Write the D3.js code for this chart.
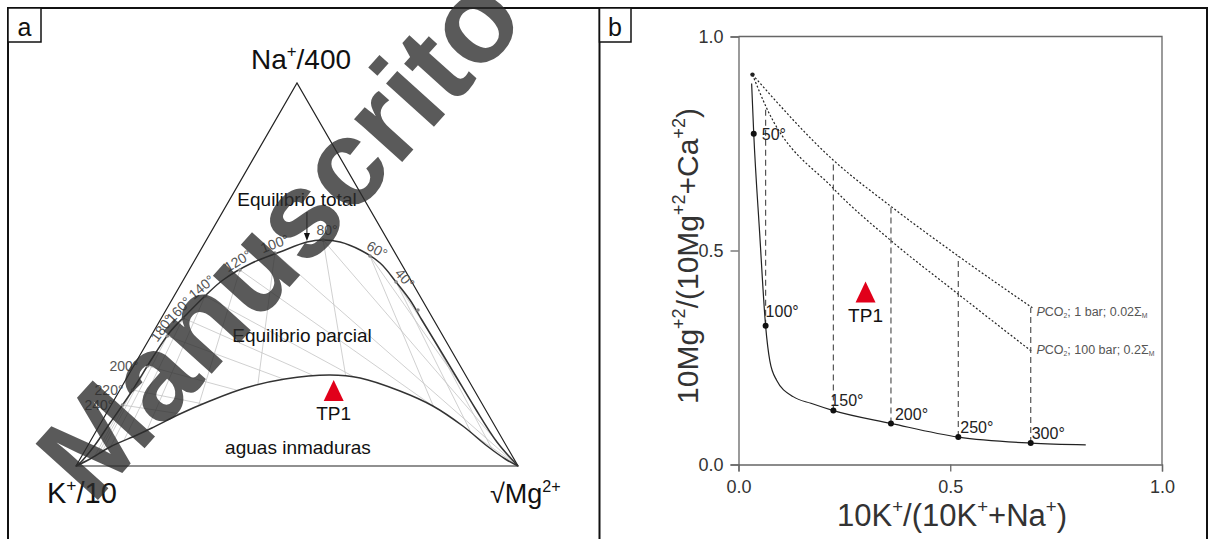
<!DOCTYPE html>
<html>
<head>
<meta charset="utf-8">
<script src="https://cdn.jsdelivr.net/npm/d3@7"></script>
<style>
  body { margin: 0; background: #fff; }
  svg { display: block; font-family: "Liberation Sans", Arial, sans-serif; }
</style>
</head>
<body>
<svg id="chart" width="1212" height="539"></svg>
<script>
// ---- panel a: ternary Na+/400 - K+/10 - sqrt(Mg), values in % (K = rest)
const fullNa = [0, 0.78, 5.48, 11.23, 18.80, 28.46, 34.99, 39.43, 44.39, 48.56, 53.0, 55.87, 58.49, 59.01, 58.49, 56.4, 53.0, 48.04, 43.34, 38.12, 31.59, 23.76, 15.14, 6.27, 0];
const fullMg = [0, 0.51, 1.56, 2.08, 2.82, 3.19, 3.77, 5.17, 6.99, 8.98, 13.3, 18.2, 23.0, 26.4, 30.5, 36.1, 42.3, 48.4, 53.9, 59.2, 65.9, 73.9, 82.7, 92.1, 100];

const partNa = [0, 1.83, 4.96, 8.09, 9.92, 13.58, 16.97, 20.37, 22.72, 23.76, 22.98, 19.58, 15.67, 10.44, 5.22, 1.83, 0];
const partMg = [0, 2.25, 5.21, 9.75, 12.2, 16.7, 21.8, 28.1, 35.9, 45.6, 52.8, 63.5, 72.9, 82.3, 90.4, 96.2, 100];

const eqTemps = [240, 220, 200, 180, 160, 140, 120, 100, 80, 60, 40, 20];
const eqNa = [15.93, 19.84, 26.1, 33.94, 38.64, 44.39, 51.17, 55.61, 59.01, 54.83, 48.04, 40.73];
const eqMg = [2.54, 2.87, 3.1, 3.69, 4.93, 6.99, 11.5, 17.2, 26.4, 39.1, 48.4, 57.0];
const eqLabelMode = ['left', 'left', 'left', 'along', 'along', 'along', 'along', 'along', 'above', 'along', 'along', ''];

const tp1Na = 18.8;
const tp1Mg = 48.9;

// ---- panel b: 10K/(10K+Na) vs 10Mg/(10Mg+Ca)
const curveX = [0.031, 0.036, 0.050, 0.064, 0.074, 0.090, 0.130, 0.171, 0.224, 0.360, 0.519, 0.690, 0.820];
const curveY = [0.890, 0.773, 0.540, 0.324, 0.242, 0.197, 0.158, 0.143, 0.126, 0.096, 0.064, 0.050, 0.046];

const tempB = [50, 100, 150, 200, 250, 300];
const tempBX = [0.036, 0.064, 0.224, 0.360, 0.519, 0.690];
const tempBY = [0.773, 0.324, 0.126, 0.096, 0.064, 0.050];
const dashTopY = [null, 0.838, 0.711, 0.603, 0.487, 0.366];

const co2OneBarX = [0.033, 0.224, 0.360, 0.519, 0.694];
const co2OneBarY = [0.911, 0.711, 0.603, 0.487, 0.366];
const co2HundredBarX = [0.033, 0.064, 0.224, 0.360, 0.519, 0.694];
const co2HundredBarY = [0.911, 0.838, 0.645, 0.523, 0.398, 0.263];

const tp1B = [0.300, 0.395];

const xTicks = [0, 0.5, 1];
const yTicks = [0, 0.5, 1];

const svg = d3.select('#chart');

// small helper for super/subscripts
function richText(sel, parts, size) {
  let shift = 0;
  parts.forEach(([str, kind]) => {
    const t = sel.append('tspan').text(str);
    let target = 0, fs = size;
    if (kind === 'sup') { target = -0.42 * size; fs = size * 0.6; }
    if (kind === 'sub') { target = 0.2 * size; fs = size * 0.55; }
    if (kind === 'ital') t.attr('font-style', 'italic');
    t.attr('font-size', fs).attr('dy', target - shift);
    shift = target;
  });
}

function triPath(cx, cy) {
  return `M${cx},${cy - 14}L${cx + 10},${cy + 7}L${cx - 10},${cy + 7}Z`;
}

// outer frame + divider
svg.append('rect')
  .attr('x', 8).attr('y', 8).attr('width', 1199).attr('height', 560)
  .attr('fill', 'none').attr('stroke', '#111').attr('stroke-width', 2);
svg.append('line')
  .attr('x1', 599.5).attr('x2', 599.5).attr('y1', 8).attr('y2', 539)
  .attr('stroke', '#111').attr('stroke-width', 2);

[['a', 8, 33, 24.5], ['b', 599.5, 31.5, 615]].forEach(([t, x0, w, cx]) => {
  svg.append('rect').attr('x', x0).attr('y', 8).attr('width', w).attr('height', 34)
    .attr('fill', '#fff').attr('stroke', '#111').attr('stroke-width', 1.5);
  svg.append('text').attr('x', cx).attr('y', 36).attr('text-anchor', 'middle')
    .attr('font-size', 25).attr('fill', '#111').text(t);
});

// ================= panel a =================
const gA = svg.append('g');
const side = d3.scaleLinear().domain([0, 100]).range([0, 442]);
const naY = d3.scaleLinear().domain([0, 100]).range([466, 83]);
const kX = 76;
const tern = (na, mg) => [kX + side(mg) + side(na) / 2, naY(na)];

const smooth = d3.line().curve(d3.curveCatmullRom.alpha(0.5));
const fullPts = fullNa.map((v, i) => tern(v, fullMg[i]));
const partPts = partNa.map((v, i) => tern(v, partMg[i]));
const eqPts = eqNa.map((v, i) => tern(v, eqMg[i]));

const clipD = smooth(fullPts) + smooth(partPts.slice().reverse()).replace(/^M/, 'L') + 'Z';
svg.append('defs').append('clipPath').attr('id', 'between')
  .append('path').attr('d', clipD);

// isotherm mesh between the two curves
const mesh = gA.append('g').attr('clip-path', 'url(#between)')
  .attr('stroke', '#c4c4c4').attr('stroke-width', 0.8).attr('fill', 'none');
eqNa.forEach((na, i) => {
  const mg = eqMg[i], k = 100 - na - mg;
  const edgeNa = na / (na + k) * 100;
  const edgeMg = mg / (mg + k) * 100;
  mesh.append('path').attr('d', d3.line()([tern(0, 100), tern(edgeNa, 0)]));
  mesh.append('path').attr('d', d3.line()([tern(100, 0), tern(0, edgeMg)]));
});

// triangle
gA.append('path')
  .attr('d', d3.line()([tern(0, 0), tern(100, 0), tern(0, 100)]) + 'Z')
  .attr('fill', 'none').attr('stroke', '#222').attr('stroke-width', 1.2);

gA.append('path').attr('d', smooth(fullPts))
  .attr('fill', 'none').attr('stroke', '#333').attr('stroke-width', 1.5);
gA.append('path').attr('d', smooth(partPts))
  .attr('fill', 'none').attr('stroke', '#333').attr('stroke-width', 1.5);

// temperature ticks on the full equilibrium line
gA.selectAll('.eqdot').data(eqPts).join('circle')
  .attr('cx', d => d[0]).attr('cy', d => d[1]).attr('r', 1.8).attr('fill', '#888');

eqPts.forEach((p, i) => {
  const mode = eqLabelMode[i];
  if (!mode) return;
  const label = eqTemps[i] + '°';
  const t = gA.append('text').attr('font-size', 14).attr('fill', '#555').text(label);
  if (mode === 'left') {
    t.attr('x', p[0] - 9).attr('y', p[1] + 5).attr('text-anchor', 'end');
  } else if (mode === 'above') {
    t.attr('x', p[0] + 4).attr('y', p[1] - 5).attr('text-anchor', 'middle');
  } else {
    const a = eqPts[Math.max(i - 1, 0)], b = eqPts[Math.min(i + 1, eqPts.length - 1)];
    const ang = Math.atan2(b[1] - a[1], b[0] - a[0]);
    const ux = Math.sin(ang), uy = -Math.cos(ang);
    const cx = p[0] + ux * 9 + Math.cos(ang) * 3;
    const cy = p[1] + uy * 9 + Math.sin(ang) * 3;
    t.attr('text-anchor', 'middle').attr('dominant-baseline', 'central')
      .attr('transform', `translate(${cx},${cy}) rotate(${ang * 180 / Math.PI})`);
  }
});

// arrow "Equilibrio total"
const arrowTo = fullPts[12];
gA.append('line').attr('x1', arrowTo[0]).attr('x2', arrowTo[0])
  .attr('y1', 212).attr('y2', arrowTo[1] - 6)
  .attr('stroke', '#111').attr('stroke-width', 1);
gA.append('path')
  .attr('d', `M${arrowTo[0] - 3},${arrowTo[1] - 9}L${arrowTo[0] + 3},${arrowTo[1] - 9}L${arrowTo[0]},${arrowTo[1] - 1}Z`)
  .attr('fill', '#111');

gA.append('text').attr('x', 297).attr('y', 206).attr('text-anchor', 'middle')
  .attr('font-size', 19).attr('fill', '#111').text('Equilibrio total');
gA.append('text').attr('x', 302).attr('y', 342).attr('text-anchor', 'middle')
  .attr('font-size', 19).attr('fill', '#111').text('Equilibrio parcial');
gA.append('text').attr('x', 298).attr('y', 454).attr('text-anchor', 'middle')
  .attr('font-size', 19).attr('fill', '#111').text('aguas inmaduras');

richText(gA.append('text').attr('x', 301).attr('y', 69).attr('text-anchor', 'middle')
  .attr('fill', '#111'), [['Na', ''], ['+', 'sup'], ['/400', '']], 28);
richText(gA.append('text').attr('x', 47).attr('y', 503).attr('fill', '#111'),
  [['K', ''], ['+', 'sup'], ['/10', '']], 29);
richText(gA.append('text').attr('x', 490).attr('y', 503).attr('fill', '#111'),
  [['√Mg', ''], ['2+', 'sup']], 27);

// TP1 in ternary
const tpA = tern(tp1Na, tp1Mg);
gA.append('path').attr('d', triPath(tpA[0], tpA[1])).attr('fill', '#e1001a');
gA.append('text').attr('x', tpA[0]).attr('y', tpA[1] + 26).attr('text-anchor', 'middle')
  .attr('font-size', 19).attr('fill', '#111').text('TP1');

// ================= panel b =================
const gB = svg.append('g');
const x = d3.scaleLinear().domain([0, 1]).range([738.5, 1162]);
const y = d3.scaleLinear().domain([0, 1]).range([464.5, 36.5]);

gB.append('path')
  .attr('d', `M${x(0)},${y(1)}H${x(1)}V${y(0)}`)
  .attr('fill', 'none').attr('stroke', '#666').attr('stroke-width', 1.3);

const ax = gB.append('g').attr('transform', `translate(0,${y(0)})`)
  .call(d3.axisBottom(x).tickValues(xTicks).tickFormat(d3.format('.1f')).tickSize(7).tickPadding(9));
const ay = gB.append('g').attr('transform', `translate(${x(0)},0)`)
  .call(d3.axisLeft(y).tickValues(yTicks).tickFormat(d3.format('.1f')).tickSize(8).tickPadding(7));
[ax, ay].forEach(g => {
  g.select('.domain').attr('stroke', '#666').attr('stroke-width', 1.3);
  g.selectAll('.tick line').attr('stroke', '#666').attr('stroke-width', 1.3);
  g.selectAll('.tick text').attr('font-size', 18).attr('fill', '#333')
    .attr('font-family', '"Liberation Sans", Arial, sans-serif');
});

const lineB = d3.line().x(d => x(d[0])).y(d => y(d[1])).curve(d3.curveMonotoneX);

[[co2OneBarX, co2OneBarY], [co2HundredBarX, co2HundredBarY]].forEach(([xs, ys]) => {
  gB.append('path').attr('d', lineB(xs.map((v, i) => [v, ys[i]])))
    .attr('fill', 'none').attr('stroke', '#222').attr('stroke-width', 1.2)
    .attr('stroke-dasharray', '2,2');
});

tempBX.forEach((v, i) => {
  if (dashTopY[i] == null) return;
  gB.append('line').attr('x1', x(v)).attr('x2', x(v))
    .attr('y1', y(tempBY[i])).attr('y2', y(dashTopY[i]))
    .attr('stroke', '#555').attr('stroke-width', 1.2).attr('stroke-dasharray', '6,4');
});

gB.append('path').attr('d', lineB(curveX.map((v, i) => [v, curveY[i]])))
  .attr('fill', 'none').attr('stroke', '#222').attr('stroke-width', 1.2);

gB.append('circle').attr('cx', x(co2OneBarX[0])).attr('cy', y(co2OneBarY[0]))
  .attr('r', 2.2).attr('fill', '#222');

gB.selectAll('.tdot').data(tempBX).join('circle')
  .attr('cx', d => x(d)).attr('cy', (d, i) => y(tempBY[i])).attr('r', 3).attr('fill', '#111');

const bLabelOff = { 50: [8, 6], 100: [0, -9], 150: [-3, -5], 200: [4, -3], 250: [2, -4], 300: [1, -4] };
tempB.forEach((t, i) => {
  const [dx, dy] = bLabelOff[t];
  gB.append('text').attr('x', x(tempBX[i]) + dx).attr('y', y(tempBY[i]) + dy)
    .attr('font-size', 16).attr('fill', '#222').text(t + '°');
});

const co2Lab = [
  [co2OneBarX, co2OneBarY, '1 bar; 0.02', 8],
  [co2HundredBarX, co2HundredBarY, '100 bar; 0.2', 2]
];
co2Lab.forEach(([xs, ys, txt, off]) => {
  const n = xs.length - 1;
  richText(gB.append('text').attr('x', x(xs[n]) + 4).attr('y', y(ys[n]) + off).attr('fill', '#555'),
    [['P', 'ital'], ['CO', ''], ['2', 'sub'], ['; ' + txt, ''], ['Σ', ''], ['M', 'sub']], 12.5);
});

gB.append('path').attr('d', triPath(x(tp1B[0]), y(tp1B[1]))).attr('fill', '#e1001a');
gB.append('text').attr('x', x(tp1B[0])).attr('y', y(tp1B[1]) + 27).attr('text-anchor', 'middle')
  .attr('font-size', 19).attr('fill', '#111').text('TP1');

richText(gB.append('text').attr('x', 952).attr('y', 526).attr('text-anchor', 'middle').attr('fill', '#333'),
  [['10K', ''], ['+', 'sup'], ['/(10K', ''], ['+', 'sup'], ['+Na', ''], ['+', 'sup'], [')', '']], 31);
richText(gB.append('text').attr('text-anchor', 'middle').attr('fill', '#333')
  .attr('transform', 'translate(698,256) rotate(-90)'),
  [['10Mg', ''], ['+2', 'sup'], ['/(10Mg', ''], ['+2', 'sup'], ['+Ca', ''], ['+2', 'sup'], [')', '']], 30);

// watermark
svg.append('text')
  .attr('transform', 'translate(279,236) rotate(-48)')
  .attr('text-anchor', 'middle').attr('dominant-baseline', 'central')
  .attr('font-size', 122).attr('font-weight', 'bold')
  .attr('fill', '#2b2b2b').attr('fill-opacity', 0.78)
  .text('Manuscrito');
</script>
</body>
</html>
